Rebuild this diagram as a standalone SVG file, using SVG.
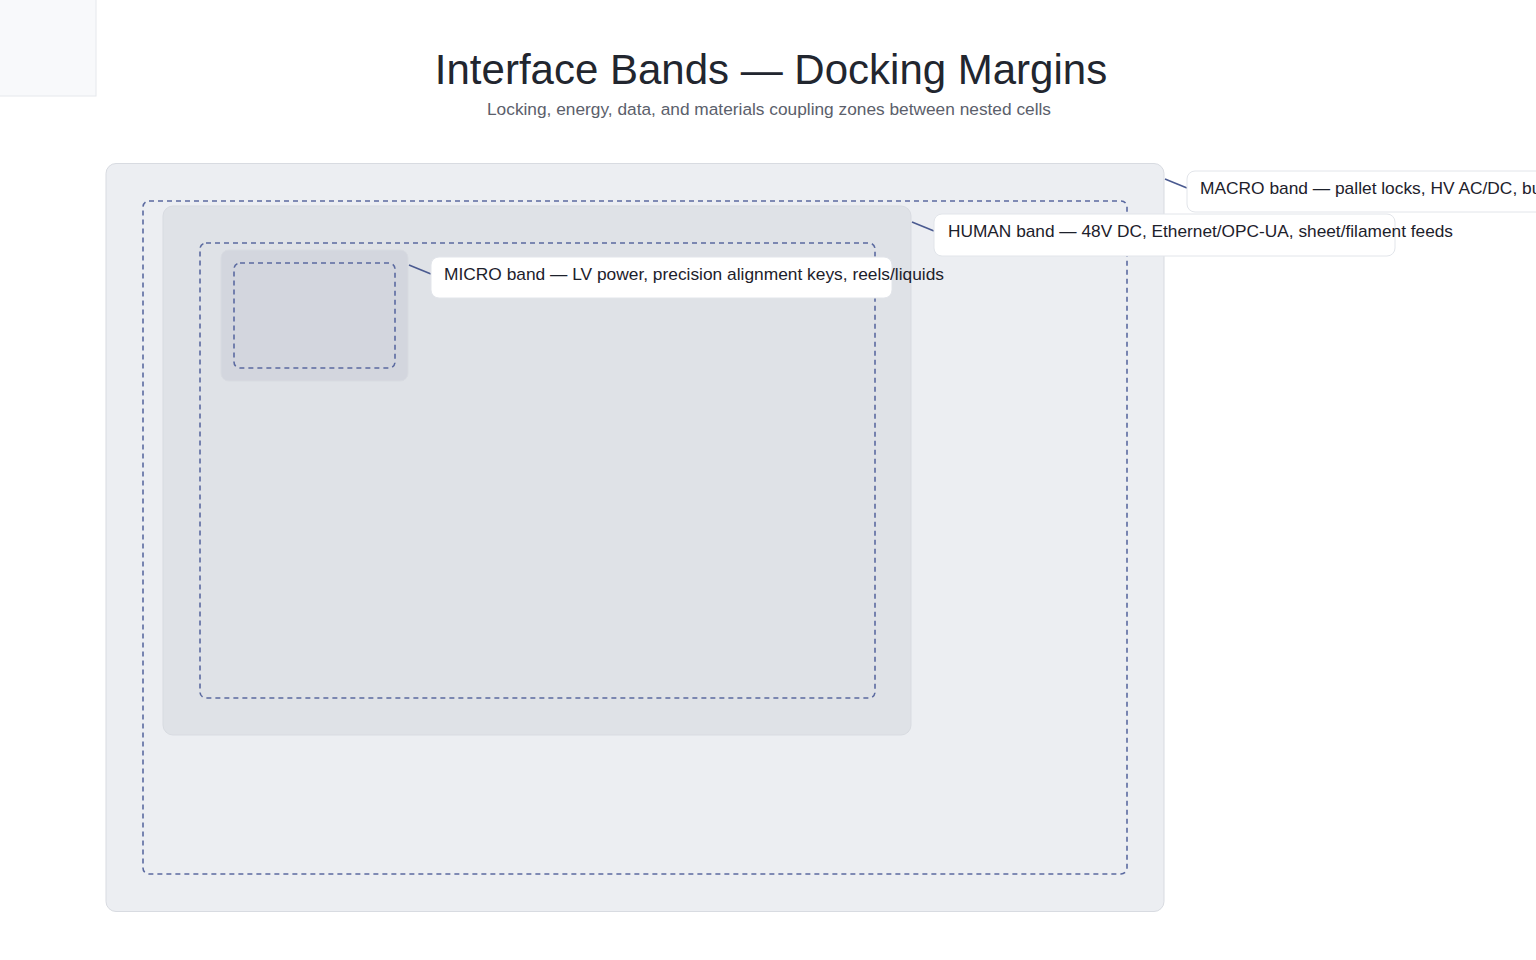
<svg xmlns="http://www.w3.org/2000/svg" width="1536" height="960" viewBox="0 0 1536 960">
<style>
.title{font-family:"Liberation Sans",Arial,sans-serif;font-size:42px;fill:#22262f;text-anchor:middle}
.sub{font-family:"Liberation Sans",Arial,sans-serif;font-size:16.8px;fill:#5b606b;text-anchor:middle}
.cell{stroke:#d8dbe1;stroke-width:1}
.band{fill:none;stroke:#5b6aa0;stroke-width:1.6;stroke-dasharray:5 4}
.lbl{fill:#ffffff;stroke:#e2e5ea;stroke-width:1}
.lt{font-family:"Liberation Sans",Arial,sans-serif;font-size:17px;fill:#1d212b}
.lead{stroke:#4a5a90;stroke-width:1.6;fill:none}
</style>
<rect width="1536" height="960" fill="#ffffff"/>
<rect x="-1" y="-1" width="97" height="97" fill="#f8f9fb" stroke="#e6e8ec"/>
<text class="title" x="771" y="84">Interface Bands — Docking Margins</text>
<text class="sub" x="769" y="115" textLength="564" lengthAdjust="spacingAndGlyphs">Locking, energy, data, and materials coupling zones between nested cells</text>
<g id="macro">
<rect class="cell" x="106" y="163.5" width="1058" height="748" rx="10" fill="#eceef2"/>
<rect class="band" x="143" y="201" width="984" height="673" rx="6"/>
</g>
<g id="human">
<rect class="cell" x="163" y="206" width="748" height="529" rx="10" fill="#dfe2e7"/>
<rect class="band" x="200" y="243" width="675" height="455" rx="6"/>
</g>
<g id="micro">
<rect class="cell" x="221" y="250" width="187" height="131" rx="8" fill="#d3d6de"/>
<rect class="band" x="234" y="263" width="161" height="105" rx="6"/>
</g>
<g id="connectors">
<line class="lead" x1="1165" y1="179" x2="1187" y2="188"/>
<line class="lead" x1="912" y1="222" x2="934" y2="231"/>
<line class="lead" x1="409" y1="265" x2="431" y2="274"/>
</g>
<g id="label-macro">
<rect class="lbl" x="1187" y="171" width="400" height="41" rx="8"/>
<text class="lt" x="1200" y="194" textLength="350" lengthAdjust="spacingAndGlyphs">MACRO band — pallet locks, HV AC/DC, bus</text>
</g>
<g id="label-human">
<rect class="lbl" x="934" y="214" width="461" height="42" rx="8"/>
<text class="lt" x="948" y="237" textLength="505" lengthAdjust="spacingAndGlyphs">HUMAN band — 48V DC, Ethernet/OPC-UA, sheet/filament feeds</text>
</g>
<g id="label-micro">
<rect class="lbl" x="431" y="257" width="461" height="41" rx="8"/>
<text class="lt" x="444" y="280" textLength="500" lengthAdjust="spacingAndGlyphs">MICRO band — LV power, precision alignment keys, reels/liquids</text>
</g>
</svg>
